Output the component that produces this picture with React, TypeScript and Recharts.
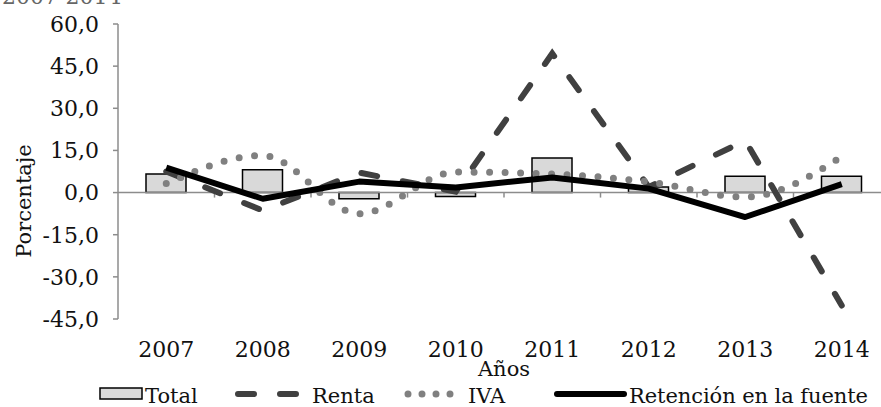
import React from "react";
import { ComposedChart, Bar, Line, XAxis, YAxis, ReferenceLine, Legend } from "recharts";

const years = ["2007", "2008", "2009", "2010", "2011", "2012", "2013", "2014"];
const total = [6.6, 8.1, -2.2, -1.4, 12.3, 2.0, 5.8, 5.8];
const renta = [7.5, -6.4, 7.1, 0.3, 49.5, 2.0, 18.5, -40.2];
const iva = [3.2, 13.2, -7.5, 7.3, 6.6, 3.8, -1.6, 12.8];
const retencion = [8.9, -2.2, 3.9, 1.8, 5.4, 1.4, -8.7, 3.0];
const yTicks = [-45, -30, -15, 0, 15, 30, 45, 60];

const data = years.map((year, i) => ({
  year,
  total: total[i],
  renta: renta[i],
  iva: iva[i],
  retencion: retencion[i],
}));

const FONT = "'DejaVu Serif', serif";
const AXIS = "#8c8c8c";

const fmt = (v: number) => v.toFixed(1).replace(".", ",");

// zero line with tick marks between categories, like the original axis
const ZeroAxis = (props: any) => {
  const { x1, x2, y1 } = props;
  const step = (x2 - x1) / years.length;
  return (
    <g>
      <line x1={x1} x2={x2} y1={y1} y2={y1} stroke={AXIS} strokeWidth={1.5} />
      {years.map((_, i) => (
        <line key={i} x1={x1 + (i + 1) * step} x2={x1 + (i + 1) * step} y1={y1} y2={y1 + 5} stroke={AXIS} strokeWidth={1.5} />
      ))}
    </g>
  );
};

const XTick = ({ x, y, payload }: any) => (
  <text x={x} y={y + 38} textAnchor="middle" fontSize={22} fontFamily={FONT} fill="#111">
    {payload.value}
  </text>
);

const LegendBox = () => (
  <svg width={900} height={30} style={{ display: "block" }}>
    <rect x={100} y={11} width={42} height={11} fill="#d9d9d9" stroke="#000" strokeWidth={1.5} />
    <text x={145} y={26} fontSize={21} fontFamily={FONT} fill="#111">Total</text>
    <line x1={238} x2={298} y1={17} y2={17} stroke="#404040" strokeWidth={6} strokeLinecap="round" strokeDasharray="16 26" />
    <text x={312} y={26} fontSize={21} fontFamily={FONT} fill="#111">Renta</text>
    <line x1={408} x2={464} y1={17} y2={17} stroke="#808080" strokeWidth={7} strokeLinecap="round" strokeDasharray="0 14" />
    <text x={468} y={26} fontSize={21} fontFamily={FONT} fill="#111">IVA</text>
    <line x1={557} x2={624} y1={17} y2={17} stroke="#000" strokeWidth={6} strokeLinecap="round" />
    <text x={629} y={26} fontSize={21} fontFamily={FONT} fill="#111" textLength={239}>Retención en la fuente</text>
  </svg>
);

export default function App() {
  return (
    <div style={{ position: "absolute", left: 0, top: 0, width: 881, height: 407, overflow: "hidden", background: "#fff" }}>
      <svg width={200} height={10} style={{ position: "absolute", left: 0, top: 0 }}>
        <text x={2} y={4} fontSize={22} fontFamily={FONT} fill="#666">2007-2014</text>
      </svg>
      <ComposedChart width={900} height={407} data={data} margin={{ top: 24, right: 10, left: 0, bottom: 0 }} barSize={40}>
        <XAxis
          dataKey="year"
          axisLine={false}
          tickLine={false}
          tickSize={0}
          tickMargin={0}
          interval={0}
          height={58}
          tick={<XTick />}
          label={{
            content: ({ viewBox }: any) => (
              <text x={viewBox.x + viewBox.width / 2} y={viewBox.y + 57} textAnchor="middle" fontSize={21} fontFamily={FONT} fill="#111">
                Años
              </text>
            ),
          }}
        />
        <YAxis
          width={118}
          domain={[-45, 60]}
          ticks={yTicks}
          interval={0}
          tickFormatter={fmt}
          axisLine={{ stroke: AXIS, strokeWidth: 1.5 }}
          tickLine={{ stroke: AXIS, strokeWidth: 1.5 }}
          tickSize={5}
          tickMargin={14}
          tick={{ fontSize: 22, fontFamily: FONT, fill: "#111" }}
          label={{
            content: ({ viewBox }: any) => (
              <text
                x={31}
                y={viewBox.y + 177}
                transform={`rotate(-90 31 ${viewBox.y + 177})`}
                textAnchor="middle"
                fontSize={21}
                fontFamily={FONT}
                fill="#111"
              >
                Porcentaje
              </text>
            ),
          }}
        />
        <Bar dataKey="total" name="Total" fill="#d9d9d9" stroke="#000" strokeWidth={1.5} isAnimationActive={false} />
        <ReferenceLine y={0} shape={<ZeroAxis />} />
        <Line dataKey="renta" name="Renta" type="linear" stroke="#404040" strokeWidth={6} strokeLinecap="round" strokeDasharray="16 26" dot={false} isAnimationActive={false} />
        <Line dataKey="iva" name="IVA" type="monotone" stroke="#808080" strokeWidth={7} strokeLinecap="round" strokeDasharray="0 15.5" dot={false} isAnimationActive={false} />
        <Line dataKey="retencion" name="Retención en la fuente" type="linear" stroke="#000" strokeWidth={6} strokeLinejoin="round" dot={false} isAnimationActive={false} />
        <Legend verticalAlign="bottom" height={30} wrapperStyle={{ left: 0, width: 900 }} content={() => <LegendBox />} />
      </ComposedChart>
    </div>
  );
}
